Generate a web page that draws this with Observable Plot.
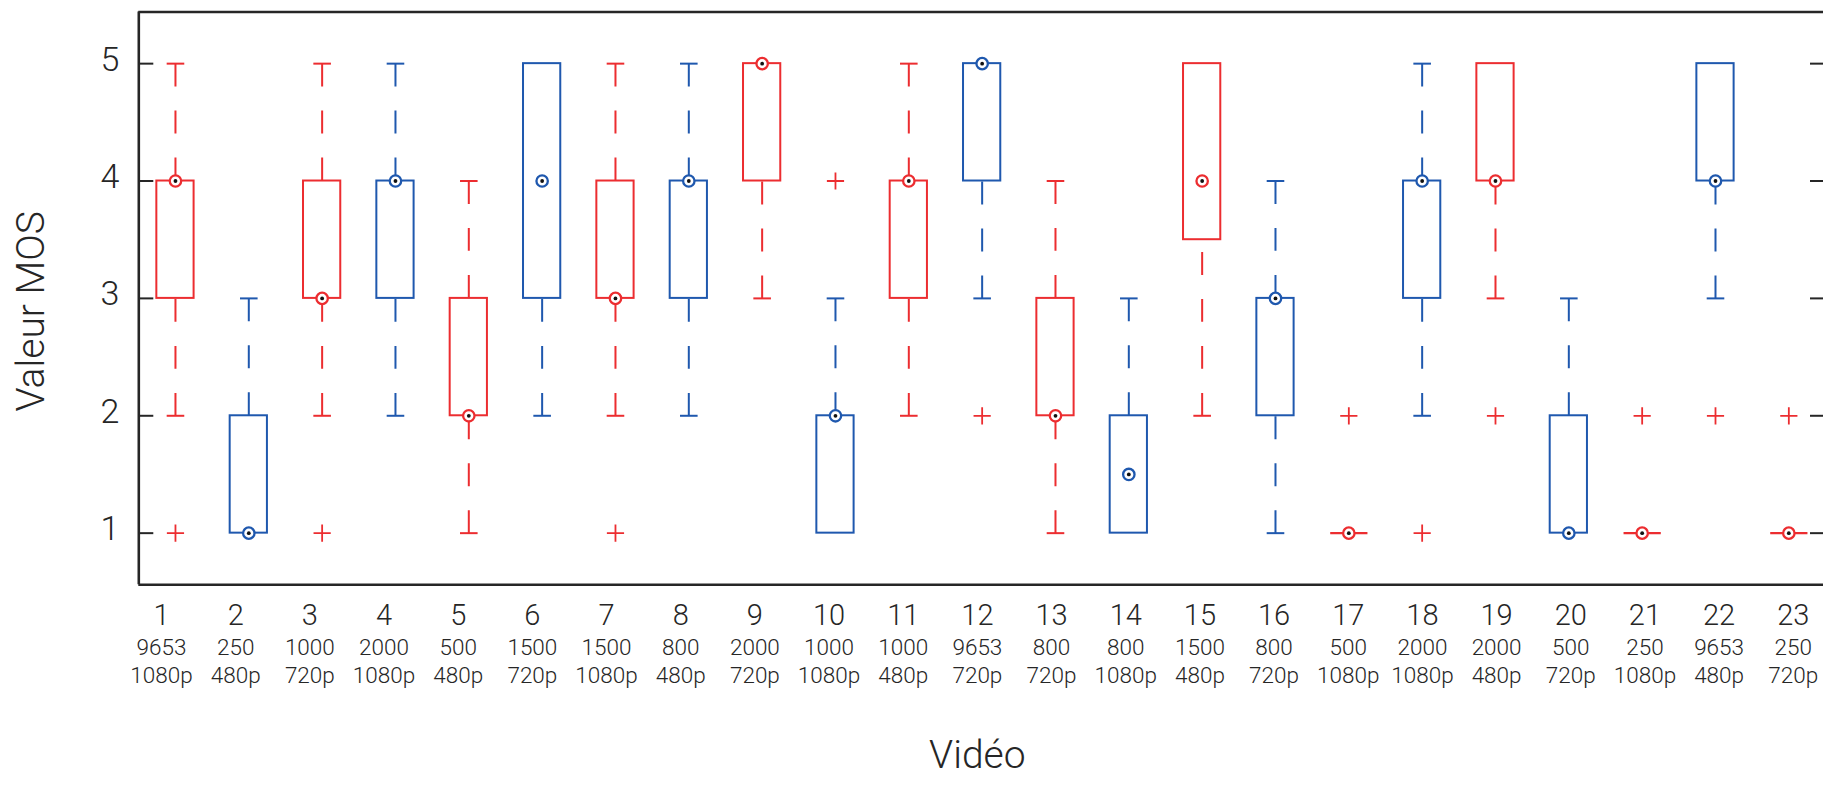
<!DOCTYPE html>
<html>
<head>
<meta charset="utf-8">
<script src="https://cdn.jsdelivr.net/npm/d3@7"></script>
<script src="https://cdn.jsdelivr.net/npm/@observablehq/plot@0.6"></script>
<style>
  html, body { margin: 0; padding: 0; background: #fff; }
  #chart { width: 1823px; height: 789px; overflow: hidden; }
</style>
</head>
<body>
<div id="chart"></div>
<script>
// ---- data ----
const videos = [1,2,3,4,5,6,7,8,9,10,11,12,13,14,15,16,17,18,19,20,21,22,23];
const bitrates = ["9653","250","1000","2000","500","1500","1500","800","2000","1000","1000","9653","800","800","1500","800","500","2000","2000","500","250","9653","250"];
const resolutions = ["1080p","480p","720p","1080p","480p","720p","1080p","480p","720p","1080p","480p","720p","720p","1080p","480p","720p","1080p","1080p","480p","720p","1080p","480p","720p"];
const groups = ["r","b","r","b","r","b","r","b","r","b","r","b","r","b","r","b","r","b","r","b","r","b","r"];
const whiskerLow  = [2,1,2,2,1,2,2,2,3,1,2,3,1,1,2,1,1,2,3,1,1,3,1];
const q1          = [3,1,3,3,2,3,3,3,4,1,3,4,2,1,3.5,2,1,3,4,1,1,4,1];
const median      = [4,1,3,4,2,4,3,4,5,2,4,5,2,1.5,4,3,1,4,4,1,1,4,1];
const q3          = [4,2,4,4,3,5,4,4,5,2,4,5,3,2,5,3,1,4,5,2,1,5,1];
const whiskerHigh = [5,3,5,5,4,5,5,5,5,3,5,5,4,3,5,4,1,5,5,3,1,5,1];
const outliers    = [[1],[],[1],[],[],[],[1],[],[],[4],[],[2],[],[],[],[],[2],[1],[2],[],[2],[2],[2]];
const yTicks = [1,2,3,4,5];
const xDomain = [0.5, 23.5];
const yDomain = [0.56, 5.44];

// ---- styles ----
const colors = {r: "#ec2d30", b: "#1f58ae"};
const outlierColor = "#ec2d30";
const ink = "#262626";
const font = "Roboto";
const W = 1823, H = 789;
const mL = 138.3, mR = -2, mT = 11.5, mB = H - 584.3;
const boxHalf = 0.254, capHalf = 0.12;
const plotW = W - mL - mR;
const yUnit = (H - mT - mB) / (yDomain[1] - yDomain[0]);
const dash = `${(yUnit/5 - 0.6).toFixed(2)},${(yUnit/5 + 0.6).toFixed(2)}`;
const labelCenter = 17.7, labelSpread = 1.0114;
const labelX = v => labelCenter + (v - labelCenter) * labelSpread;

const rows = videos.map((v, i) => ({
  video: v, group: groups[i], bitrate: bitrates[i], res: resolutions[i],
  lo: whiskerLow[i], q1: q1[i], med: median[i], q3: q3[i], hi: whiskerHigh[i]
}));
const outRows = rows.flatMap((d, i) => outliers[i].map(o => ({video: d.video, value: o})));
const upperW = rows.filter(d => d.hi > d.q3);
const lowerW = rows.filter(d => d.lo < d.q1);

const chart = Plot.plot({
  width: W, height: H,
  marginLeft: mL, marginRight: mR, marginTop: mT, marginBottom: mB,
  style: {fontFamily: font, fontWeight: 300, color: ink, background: "#fff", overflow: "visible"},
  x: {domain: xDomain, axis: null},
  y: {domain: yDomain, axis: null},
  marks: [
    // frame (top, bottom, left)
    Plot.ruleY([yDomain[1]], {stroke: ink, strokeWidth: 2.6}),
    Plot.ruleY([yDomain[0]], {stroke: ink, strokeWidth: 2.6}),
    Plot.ruleX([xDomain[0]], {stroke: ink, strokeWidth: 2.6}),
    // inward y ticks left & right
    Plot.tickY(yTicks, {y: d => d, stroke: ink, strokeWidth: 2, insetRight: plotW - 15}),
    Plot.tickY(yTicks, {y: d => d, stroke: ink, strokeWidth: 2, insetLeft: plotW - 15}),
    // y tick labels
    Plot.text(yTicks, {y: d => d, text: d => String(d), frameAnchor: "left", textAnchor: "end", dx: -19.5, dy: -4, fontSize: 34, fill: ink, fontWeight: 300}),
    // whiskers (dashed, starting at whisker end)
    Plot.link(upperW, {x1: "video", x2: "video", y1: "hi", y2: "q3", stroke: d => colors[d.group], strokeWidth: 2, strokeDasharray: dash}),
    Plot.link(lowerW, {x1: "video", x2: "video", y1: "lo", y2: "q1", stroke: d => colors[d.group], strokeWidth: 2, strokeDasharray: dash}),
    // caps
    Plot.link(upperW, {x1: d => d.video - capHalf, x2: d => d.video + capHalf, y1: "hi", y2: "hi", stroke: d => colors[d.group], strokeWidth: 2}),
    Plot.link(lowerW, {x1: d => d.video - capHalf, x2: d => d.video + capHalf, y1: "lo", y2: "lo", stroke: d => colors[d.group], strokeWidth: 2}),
    // boxes
    Plot.rect(rows.filter(d => d.q3 > d.q1), {x1: d => d.video - boxHalf, x2: d => d.video + boxHalf, y1: "q1", y2: "q3", fill: "none", stroke: d => colors[d.group], strokeWidth: 2}),
    Plot.link(rows.filter(d => d.q3 === d.q1), {x1: d => d.video - boxHalf, x2: d => d.video + boxHalf, y1: "q1", y2: "q1", stroke: d => colors[d.group], strokeWidth: 2.2}),
    // outliers
    Plot.dot(outRows, {x: "video", y: "value", symbol: "plus", r: 5.6, stroke: outlierColor, strokeWidth: 1.8}),
    // medians (target style)
    Plot.dot(rows, {x: "video", y: "med", r: 5.7, fill: "#fff", stroke: d => colors[d.group], strokeWidth: 2.3}),
    Plot.dot(rows, {x: "video", y: "med", r: 1.9, fill: "#111", stroke: "none"}),
    // x labels
    Plot.text(rows, {x: d => labelX(d.video), text: d => String(d.video), frameAnchor: "bottom", dy: 40, fontSize: 29, fill: ink, fontWeight: 300}),
    Plot.text(rows, {x: d => labelX(d.video), text: "bitrate", frameAnchor: "bottom", dy: 70, fontSize: 22.5, fill: ink, fontWeight: 300}),
    Plot.text(rows, {x: d => labelX(d.video), text: "res", frameAnchor: "bottom", dy: 98, fontSize: 22.5, fill: ink, fontWeight: 300}),
    // axis titles
    Plot.text(["Vidéo"], {x: () => labelX(d3.median(videos)), frameAnchor: "bottom", dy: 183, fontSize: 39, fill: ink, fontWeight: 300}),
    Plot.text(["Valeur MOS"], {frameAnchor: "left", textAnchor: "middle", dx: -107, dy: 13, rotate: -90, fontSize: 39, fill: ink, fontWeight: 300})
  ]
});
document.getElementById("chart").appendChild(chart);
</script>
</body>
</html>
